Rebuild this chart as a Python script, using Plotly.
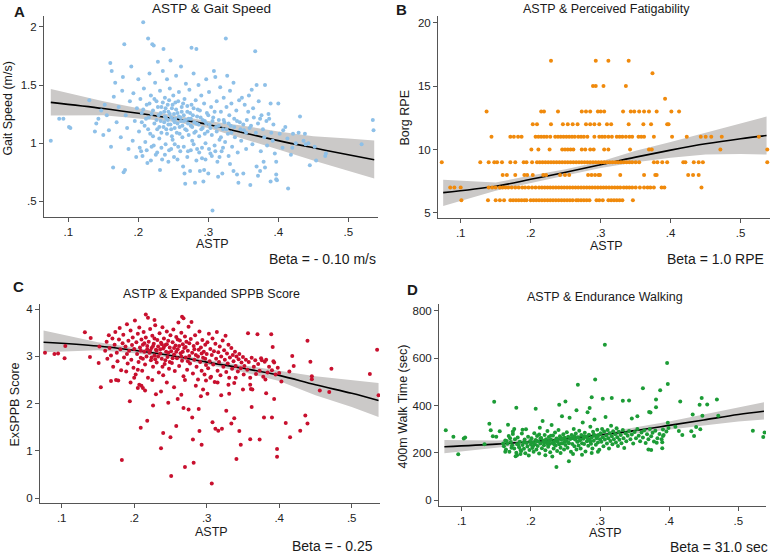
import plotly.graph_objects as go

# ---- data (ASTP vs outcome) ----
gait_pts = [
    (.075, 1.02), (.087, 1.21), (.093, 1.21), (.101, 1.14), (.103, 1.13), (.130, 1.37), (.138, 1.10), (.140, 1.17),
    (.143, 1.21), (.147, 1.28), (.150, 1.07), (.152, 1.33), (.155, 1.24), (.158, 1.11), (.160, 1.69), (.162, 1.62),
    (.161, 0.97), (.164, 0.79), (.165, 1.40), (.167, 1.52), (.169, 1.18), (.172, 1.31), (.175, 1.05), (.177, 1.45),
    (.179, 0.75), (.181, 0.77), (.180, 1.85), (.178, 1.57), (.182, 1.24), (.184, 1.13), (.186, 0.95), (.188, 1.36),
    (.190, 1.66), (.192, 1.02), (.193, 1.43), (.195, 1.19), (.197, 0.88), (.198, 1.30), (.200, 1.55), (.201, 1.10),
    (.203, 1.38), (.204, 0.93), (.205, 1.26), (.207, 2.04), (.208, 1.47), (.209, 1.15), (.210, 1.01), (.212, 1.33),
    (.213, 0.83), (.214, 1.90), (.215, 1.22), (.216, 1.60), (.217, 1.08), (.218, 1.41), (.219, 0.97), (.220, 1.85),
    (.221, 1.28), (.222, 1.84), (.223, 1.17), (.224, 1.52), (.225, 0.90), (.226, 1.36), (.227, 1.12), (.228, 1.70),
    (.229, 1.24), (.230, 1.04), (.231, 1.45), (.231, 0.77), (.232, 1.19), (.233, 1.31), (.234, 0.86), (.235, 1.62),
    (.236, 1.81), (.236, 1.14), (.237, 1.27), (.238, 1.39), (.239, 0.99), (.240, 1.21), (.241, 1.55), (.241, 1.08),
    (.242, 1.33), (.243, 1.16), (.244, 0.94), (.245, 1.25), (.245, 1.47), (.246, 1.71), (.247, 1.12), (.248, 1.30),
    (.249, 1.03), (.250, 1.20), (.250, 1.41), (.251, 0.88), (.252, 1.18), (.253, 1.35), (.254, 1.58), (.255, 1.09),
    (.256, 1.26), (.257, 0.97), (.258, 1.44), (.259, 1.14), (.260, 1.22), (.261, 1.66), (.262, 1.31), (.263, 1.05),
    (.264, 0.80), (.265, 1.19), (.266, 0.74), (.266, 1.38), (.267, 0.65), (.268, 1.51), (.269, 1.11), (.270, 1.27),
    (.271, 0.93), (.272, 1.21), (.273, 1.46), (.274, 0.76), (.275, 1.15), (.276, 1.82), (.276, 1.33), (.277, 1.02),
    (.278, 1.24), (.279, 1.60), (.280, 1.09), (.281, 0.66), (.282, 1.37), (.283, 1.81), (.283, 1.17), (.284, 0.95),
    (.285, 1.29), (.286, 1.50), (.287, 1.06), (.288, 0.76), (.289, 1.22), (.290, 1.41), (.291, 0.87), (.292, 1.13),
    (.293, 0.67), (.294, 0.77), (.294, 1.34), (.295, 1.19), (.296, 1.00), (.297, 1.55), (.298, 1.26), (.299, 1.10),
    (.300, 0.74), (.301, 1.44), (.302, 1.16), (.303, 0.91), (.304, 1.31), (.305, 1.07), (.306, 0.42), (.307, 1.22),
    (.308, 1.62), (.309, 0.98), (.310, 1.57), (.311, 1.14), (.312, 1.36), (.313, 0.84), (.314, 0.71), (.315, 1.20),
    (.316, 1.03), (.317, 1.48), (.318, 1.27), (.319, 0.93), (.320, 0.74), (.321, 1.12), (.322, 1.39), (.323, 1.18),
    (.324, 1.01), (.325, 1.90), (.326, 1.31), (.327, 1.58), (.328, 1.08), (.329, 0.89), (.330, 1.24), (.331, 1.45),
    (.331, 0.82), (.332, 1.15), (.333, 1.34), (.334, 0.97), (.336, 1.52), (.336, 0.76), (.337, 1.21), (.338, 1.05),
    (.340, 1.28), (.341, 0.73), (.342, 0.92), (.343, 0.66), (.344, 1.37), (.345, 1.18), (.347, 1.02), (.348, 1.39),
    (.350, 0.74), (.351, 1.11), (.352, 1.33), (.354, 0.95), (.355, 1.20), (.357, 1.27), (.358, 1.41), (.360, 0.64),
    (.361, 1.15), (.362, 1.46), (.363, 0.99), (.364, 1.30), (.365, 1.22), (.367, 1.79), (.368, 1.09), (.369, 0.80),
    (.369, 1.50), (.371, 0.72), (.371, 1.17), (.372, 1.36), (.374, 0.76), (.374, 1.21), (.375, 0.93), (.376, 1.24),
    (.378, 1.12), (.379, 0.84), (.380, 1.05), (.381, 0.79), (.381, 1.50), (.383, 1.19), (.384, 0.98), (.386, 1.25),
    (.387, 1.21), (.389, 0.67), (.389, 1.34), (.390, 1.09), (.392, 1.02), (.393, 1.16), (.395, 0.91), (.397, 0.73),
    (.397, 0.69), (.397, 0.84), (.398, 0.68), (.400, 1.34), (.402, 1.08), (.406, 0.96), (.407, 1.11), (.410, 1.14),
    (.413, 1.04), (.414, 0.61), (.418, 0.90), (.420, 0.96), (.421, 1.08), (.425, 1.00), (.429, 1.09), (.431, 1.23),
    (.436, 1.02), (.438, 1.08), (.439, 0.99), (.443, 1.00), (.445, 0.81), (.452, 0.97), (.454, 0.85), (.467, 0.89),
    (.468, 0.91), (.519, 0.99), (.535, 1.20), (.536, 1.11),
    (.205, 1.18), (.207, 1.29), (.211, 1.21), (.214, 1.12), (.216, 1.34), (.219, 1.25), (.221, 1.06), (.223, 1.38),
    (.226, 1.20), (.228, 1.31), (.230, 1.14), (.232, 1.26), (.233, 1.09), (.235, 1.35), (.237, 1.18), (.238, 1.23),
    (.239, 1.30), (.240, 1.12), (.242, 1.20), (.243, 1.27), (.244, 1.37), (.246, 1.16), (.247, 1.22), (.248, 1.06),
    (.249, 1.33), (.251, 1.25), (.252, 1.13), (.253, 1.21), (.254, 1.29), (.256, 1.17), (.257, 1.36), (.258, 1.23),
    (.259, 1.08), (.261, 1.19), (.262, 1.27), (.263, 1.15), (.264, 1.34), (.265, 1.24), (.267, 1.12), (.268, 1.20),
    (.270, 1.32), (.271, 1.17), (.272, 1.07), (.274, 1.26), (.275, 1.21), (.277, 1.14), (.279, 1.30), (.280, 1.18),
    (.282, 1.10), (.284, 1.23), (.286, 1.16), (.288, 1.28), (.290, 1.12), (.292, 1.20), (.295, 1.08), (.297, 1.17),
    (.300, 1.24), (.303, 1.13), (.306, 1.19), (.309, 1.27), (.312, 1.10), (.315, 1.15), (.318, 1.05), (.322, 1.20),
    (.326, 1.12), (.329, 1.17), (.333, 1.09), (.337, 1.14), (.341, 1.19), (.346, 1.12), (.350, 1.16), (.354, 1.09),
    (.359, 1.13),
    (.202, 0.96), (.206, 0.89), (.212, 0.94), (.218, 0.85), (.222, 0.98), (.227, 0.92), (.233, 0.96), (.238, 0.90),
    (.243, 0.84), (.247, 0.95), (.252, 0.99), (.256, 0.86), (.260, 0.93), (.265, 0.97), (.270, 0.88), (.275, 0.94),
    (.279, 0.99), (.283, 0.85), (.287, 0.92), (.291, 0.96), (.296, 0.86), (.301, 0.95), (.305, 0.89), (.310, 0.93),
    (.316, 0.88), (.321, 0.96),
]

# Borg RPE is an integer score: ASTP values of the dots in each RPE row
rpe6 = [.101, .139, .150, .156, .162, .171, .175, .179, .183, .187, .191, .194, .200, .204, .208, .212, .216,
        .220, .224, .228, .232, .236, .240, .244, .248, .252, .256, .260, .265, .268, .272, .276, .280, .284,
        .294, .298, .303, .311, .315, .319, .323, .327, .331, .346]
rpe7 = [.085, .091, .100, .140, .145, .150, .156, .160, .164, .168, .173, .178, .183, .188, .192, .197, .202,
        .207, .212, .216, .220, .224, .228, .232, .236, .240, .244, .248, .252, .256, .260, .264, .268, .272,
        .276, .280, .284, .288, .292, .296, .300, .304, .308, .312, .316, .320, .324, .328, .333, .337, .341,
        .345, .350, .356, .362, .367, .371, .376, .387, .391, .444]
rpe8 = [.160, .166, .178, .191, .195, .203, .218, .222, .242, .249, .255, .282, .287, .292, .297, .299, .328,
        .362, .378, .380, .425, .432, .440]
rpe9 = [.073, .128, .140, .148, .152, .159, .171, .178, .190, .194, .202, .209, .213, .217, .221, .225, .229,
        .233, .237, .241, .245, .249, .253, .257, .261, .265, .269, .273, .277, .281, .285, .289, .293, .297,
        .301, .305, .309, .313, .317, .321, .325, .329, .333, .337, .341, .345, .350, .355, .376, .381, .388,
        .395, .418, .421, .433, .440, .446, .538]
rpe10 = [.201, .211, .227, .245, .249, .253, .257, .261, .273, .278, .285, .290, .305, .311, .342, .369, .373,
         .471, .538]
rpe11 = [.144, .171, .176, .182, .187, .207, .211, .215, .219, .223, .228, .235, .239, .243, .247, .251, .255,
         .259, .263, .268, .272, .276, .281, .291, .298, .302, .306, .311, .316, .323, .327, .331, .336, .341,
         .345, .354, .358, .362, .376, .402, .423, .443, .450, .458, .473, .526]
rpe12 = [.203, .209, .229, .246, .253, .260, .267, .279, .285, .291, .298, .309, .315, .340, .361, .372, .395, .397]
rpe13 = [.137, .215, .219, .239, .273, .279, .285, .296, .300, .305, .332, .343, .348, .355, .362, .369, .380,
         .401, .412]
rpe14 = [.392]
rpe15 = [.289, .293, .304, .336]
rpe16 = [.374]
rpe17 = [.229, .293, .311, .340]

sppb_pts = [
    (.077, 3.08), (.090, 3.05), (.095, 3.06), (.104, 2.96), (.105, 3.22), (.132, 3.51), (.139, 2.99), (.140, 3.39),
    (.151, 2.86), (.152, 3.21), (.154, 2.35), (.168, 2.48), (.178, 2.49), (.183, 0.81), (.189, 2.68), (.194, 2.05),
    (.205, 2.33), (.207, 2.40), (.209, 1.49), (.212, 2.33), (.218, 1.64), (.226, 1.96), (.228, 3.77), (.237, 1.06),
    (.237, 2.26), (.240, 1.38), (.247, 2.02), (.250, 1.29), (.251, 0.47), (.258, 1.53), (.265, 2.19), (.268, 1.91),
    (.266, 3.84), (.270, 0.66), (.275, 1.88), (.280, 1.71), (.281, 1.24), (.282, 0.75), (.289, 1.89), (.290, 1.42),
    (.292, 2.16), (.293, 1.13), (.299, 2.49), (.301, 2.21), (.307, 0.31), (.308, 1.61), (.312, 1.47), (.316, 1.43),
    (.321, 1.47), (.327, 1.85), (.331, 2.21), (.334, 1.58), (.338, 1.69), (.341, 0.83), (.345, 1.42), (.347, 1.13),
    (.360, 2.40), (.362, 1.93), (.360, 1.25), (.373, 1.24), (.379, 1.71), (.390, 1.71), (.382, 2.22), (.393, 2.10),
    (.397, 1.04), (.397, 0.88), (.403, 2.47), (.409, 1.59), (.415, 1.29), (.418, 3.01), (.420, 2.80), (.429, 1.43),
    (.439, 3.33), (.436, 1.75), (.439, 1.58), (.445, 2.58), (.445, 2.52), (.443, 2.89), (.456, 2.28), (.469, 2.25),
    (.472, 2.74), (.525, 2.63), (.535, 3.14), (.537, 2.18), (.414, 2.68), (.392, 2.90), (.381, 2.51), (.361, 2.31),
    (.201, 3.76), (.216, 3.89), (.219, 3.82), (.207, 3.61), (.190, 3.68), (.185, 3.46),
    (.160, 3.12), (.162, 3.31), (.163, 2.95), (.165, 3.45), (.166, 3.18), (.168, 3.02), (.170, 3.38), (.171, 2.78),
    (.173, 3.25), (.174, 3.52), (.176, 3.08), (.177, 2.90), (.179, 3.36), (.180, 3.60), (.181, 3.15), (.182, 2.71),
    (.184, 3.28), (.186, 2.98), (.188, 3.21), (.190, 3.05), (.191, 2.85), (.192, 3.33), (.193, 3.12), (.195, 3.55),
    (.196, 2.93), (.197, 3.24), (.198, 3.40), (.199, 2.76), (.200, 3.16), (.202, 2.62),
    (.203, 3.30), (.204, 3.05), (.205, 3.48), (.206, 2.88), (.208, 3.19), (.209, 2.97), (.210, 3.36), (.211, 2.70),
    (.212, 3.25), (.213, 3.52), (.214, 3.10), (.215, 2.83), (.216, 3.40), (.217, 3.00), (.218, 3.22), (.219, 2.55),
    (.220, 3.31), (.221, 3.08), (.222, 3.58), (.223, 2.92), (.224, 3.18), (.225, 3.44), (.226, 2.78), (.227, 3.27),
    (.228, 3.02), (.229, 3.66), (.230, 3.14), (.231, 2.87), (.232, 3.35), (.233, 3.21), (.234, 2.66), (.235, 3.49),
    (.236, 3.06), (.237, 3.29), (.238, 2.95), (.239, 3.62), (.240, 3.17), (.241, 3.38), (.242, 2.84), (.243, 3.24),
    (.244, 3.10), (.245, 3.53), (.246, 2.99), (.247, 3.33), (.248, 2.74), (.249, 3.19), (.250, 3.45), (.205, 2.72),
    (.212, 2.95), (.222, 3.12), (.228, 3.38), (.233, 3.00), (.238, 3.26), (.243, 2.92), (.247, 3.08), (.214, 3.28),
    (.226, 3.22), (.236, 3.15), (.241, 3.20), (.245, 3.26), (.231, 3.12), (.218, 3.15), (.209, 3.12), (.224, 2.98),
    (.249, 2.88), (.239, 2.78), (.229, 2.94),
    (.251, 3.11), (.252, 2.86), (.253, 3.30), (.254, 3.57), (.255, 3.04), (.256, 2.69), (.257, 3.23), (.258, 3.41),
    (.259, 2.96), (.260, 3.15), (.261, 3.72), (.262, 2.80), (.263, 3.34), (.264, 3.07), (.265, 3.50), (.266, 2.91),
    (.267, 3.26), (.268, 3.81), (.268, 2.58), (.269, 3.18), (.270, 3.42), (.271, 2.98), (.272, 3.31), (.273, 2.72),
    (.274, 3.12), (.275, 3.63), (.276, 3.01), (.277, 2.85), (.278, 3.37), (.279, 3.73), (.280, 3.08), (.281, 2.64),
    (.282, 3.22), (.283, 2.93), (.284, 3.45), (.285, 3.03), (.286, 2.78), (.287, 3.28), (.288, 2.51), (.289, 3.14),
    (.290, 3.53), (.291, 2.88), (.292, 3.19), (.293, 2.70), (.294, 3.35), (.295, 2.97), (.296, 3.10), (.297, 2.62),
    (.298, 3.25), (.299, 2.82), (.300, 3.05), (.255, 3.18), (.262, 3.22), (.258, 3.10), (.265, 3.00), (.271, 3.20),
    (.276, 3.28), (.283, 3.15), (.288, 3.00), (.293, 3.06), (.298, 2.95), (.253, 2.96), (.260, 3.36), (.267, 3.10),
    (.274, 2.90),
    (.301, 3.30), (.302, 2.75), (.303, 3.48), (.304, 2.90), (.305, 3.16), (.306, 2.57), (.307, 3.03), (.308, 3.38),
    (.309, 2.83), (.310, 3.11), (.311, 2.46), (.312, 3.27), (.313, 2.95), (.314, 3.52), (.315, 2.70), (.316, 3.09),
    (.317, 2.88), (.318, 3.21), (.319, 2.60), (.320, 3.00), (.322, 3.34), (.323, 2.78), (.324, 3.13), (.325, 2.93),
    (.326, 3.44), (.327, 2.67), (.328, 3.06), (.329, 2.85), (.330, 3.25), (.331, 2.55), (.332, 2.98), (.334, 3.18),
    (.335, 2.74), (.336, 3.03), (.337, 2.90), (.338, 2.44), (.339, 3.10), (.340, 2.80), (.341, 3.00), (.343, 2.68),
    (.344, 2.94), (.345, 3.05), (.347, 2.75), (.348, 2.87), (.350, 2.99), (.351, 2.62), (.352, 2.80), (.354, 2.93),
    (.356, 2.72), (.357, 3.49), (.358, 2.88), (.360, 2.55), (.362, 2.97), (.363, 2.30), (.365, 2.78), (.367, 2.92),
    (.368, 2.63), (.370, 3.47), (.371, 2.84), (.373, 2.70), (.375, 2.96), (.376, 2.92), (.378, 2.57), (.380, 2.89),
    (.382, 2.93), (.384, 2.66), (.386, 2.78), (.389, 3.47), (.390, 2.71), (.391, 3.20), (.393, 2.87), (.395, 2.62),
    (.398, 2.76), (.400, 2.65),
    (.175, 2.50), (.195, 2.45), (.210, 2.38), (.215, 2.28), (.225, 2.50), (.230, 2.20), (.245, 2.45), (.255, 2.35),
    (.260, 2.10), (.270, 2.50), (.285, 2.38), (.295, 2.30), (.305, 2.55), (.315, 2.45), (.320, 2.18), (.330, 2.40),
    (.340, 2.55), (.350, 2.30), (.240, 2.60), (.200, 2.55),
]

walk_pts = [
    (.077, 296), (.088, 268), (.095, 194), (.103, 261), (.105, 265), (.133, 236), (.140, 323), (.142, 296),
    (.145, 270), (.147, 416), (.150, 268), (.155, 291), (.160, 240), (.163, 205), (.165, 250), (.167, 319),
    (.170, 262), (.172, 222), (.174, 280), (.176, 301), (.179, 391), (.180, 190), (.182, 233), (.185, 212),
    (.188, 298), (.190, 245), (.207, 386), (.237, 140), (.241, 403), (.250, 417), (.255, 165), (.268, 488),
    (.288, 435), (.293, 510), (.307, 656), (.317, 432), (.304, 429), (.333, 420), (.342, 421), (.362, 473),
    (.381, 425), (.387, 464), (.381, 393), (.371, 373), (.373, 370), (.346, 345), (.354, 355), (.397, 579),
    (.398, 491), (.398, 327), (.391, 299), (.391, 271), (.390, 245), (.390, 220), (.382, 243), (.370, 214),
    (.374, 212), (.409, 310), (.414, 292), (.416, 417), (.419, 275), (.432, 291), (.434, 362), (.436, 271),
    (.439, 309), (.444, 403), (.445, 300), (.447, 432), (.448, 357), (.455, 404), (.469, 425), (.471, 357),
    (.521, 293), (.536, 267), (.538, 286),
    (.161, 228), (.163, 252), (.164, 214), (.166, 239), (.168, 271), (.169, 205), (.171, 246), (.173, 232),
    (.174, 290), (.176, 219), (.177, 258), (.179, 201), (.180, 238), (.181, 265), (.183, 224), (.184, 247),
    (.186, 208), (.187, 282), (.188, 233), (.190, 217), (.191, 256), (.192, 198), (.194, 242), (.195, 227),
    (.196, 268), (.198, 212), (.199, 250), (.200, 235), (.178, 186), (.185, 195), (.193, 300), (.197, 189),
    (.201, 262), (.202, 221), (.203, 245), (.204, 205), (.205, 283), (.206, 236), (.207, 254), (.208, 214),
    (.209, 271), (.210, 229), (.211, 248), (.212, 197), (.213, 306), (.214, 240), (.215, 263), (.216, 220),
    (.217, 335), (.218, 251), (.219, 232), (.220, 276), (.221, 211), (.222, 258), (.223, 244), (.224, 292),
    (.225, 226), (.226, 267), (.227, 238), (.228, 203), (.229, 255), (.230, 318), (.231, 242), (.232, 273),
    (.233, 219), (.234, 249), (.235, 286), (.236, 231), (.237, 261), (.238, 208), (.239, 246), (.240, 297),
    (.241, 236), (.242, 270), (.243, 222), (.244, 256), (.245, 355), (.246, 241), (.247, 279), (.248, 214),
    (.249, 264), (.250, 233), (.203, 228), (.208, 250), (.214, 262), (.219, 244), (.224, 238), (.229, 272),
    (.234, 235), (.239, 258), (.244, 240), (.249, 248), (.212, 278), (.226, 248), (.236, 252), (.246, 262),
    (.221, 190), (.231, 185), (.243, 200),
    (.251, 253), (.252, 287), (.253, 222), (.254, 268), (.255, 241), (.256, 348), (.257, 259), (.258, 205),
    (.259, 275), (.260, 237), (.261, 262), (.262, 301), (.263, 228), (.264, 256), (.265, 282), (.266, 214),
    (.267, 247), (.268, 266), (.269, 231), (.270, 293), (.271, 253), (.272, 219), (.273, 276), (.274, 241),
    (.275, 328), (.276, 260), (.277, 237), (.278, 285), (.279, 206), (.280, 268), (.281, 249), (.282, 372),
    (.283, 230), (.284, 277), (.285, 256), (.286, 310), (.287, 239), (.288, 265), (.289, 218), (.290, 289),
    (.291, 251), (.292, 341), (.293, 272), (.294, 234), (.295, 262), (.296, 298), (.297, 244), (.298, 276),
    (.299, 213), (.300, 258), (.254, 245), (.258, 262), (.263, 270), (.268, 248), (.272, 258), (.277, 270),
    (.282, 262), (.286, 248), (.291, 278), (.296, 268), (.261, 195), (.274, 192), (.288, 200), (.297, 205),
    (.266, 380), (.285, 390),
    (.301, 283), (.302, 247), (.303, 301), (.304, 266), (.305, 228), (.306, 290), (.307, 256), (.308, 352),
    (.309, 273), (.310, 240), (.311, 297), (.312, 262), (.313, 218), (.314, 283), (.315, 250), (.316, 315),
    (.317, 270), (.318, 236), (.319, 291), (.320, 258), (.322, 279), (.323, 244), (.324, 304), (.325, 266),
    (.326, 229), (.327, 289), (.328, 255), (.330, 276), (.331, 241), (.333, 297), (.334, 262), (.335, 221),
    (.337, 283), (.338, 249), (.340, 272), (.342, 292), (.344, 258), (.346, 278), (.348, 240), (.350, 288),
    (.352, 262), (.354, 301), (.356, 272), (.358, 249), (.360, 286),
    (.362, 265), (.364, 296), (.366, 242), (.368, 279), (.370, 258), (.372, 301), (.374, 270), (.376, 285),
    (.378, 248), (.380, 293), (.383, 262), (.386, 280), (.389, 258), (.392, 276), (.396, 290), (.399, 305),
]

# fitted line and 95% CI band, read at these ASTP values
fit_x = [.075, .15, .2, .25, .3, .35, .4, .45, .5, .537]
gait_fit = [1.351, 1.298, 1.257, 1.212, 1.16, 1.09, 1.022, 0.96, 0.90, 0.858]
gait_hi = [1.466, 1.36, 1.30, 1.24, 1.19, 1.15, 1.10, 1.06, 1.04, 1.023]
gait_lo = [1.237, 1.24, 1.215, 1.185, 1.13, 1.04, 0.945, 0.85, 0.76, 0.695]
rpe_fit = [6.6, 7.1, 7.65, 8.2, 8.8, 9.4, 9.95, 10.45, 10.85, 11.1]
rpe_hi = [7.62, 7.4, 7.95, 8.45, 9.05, 9.9, 10.6, 11.35, 12.05, 12.6]
rpe_lo = [5.55, 6.75, 7.35, 7.95, 8.55, 9.0, 9.35, 9.6, 9.65, 9.6]
sppb_fit = [3.30, 3.22, 3.13, 3.02, 2.88, 2.75, 2.60, 2.40, 2.22, 2.07]
sppb_hi = [3.55, 3.30, 3.19, 3.07, 2.93, 2.82, 2.70, 2.58, 2.50, 2.44]
sppb_lo = [3.09, 3.13, 3.07, 2.97, 2.83, 2.67, 2.48, 2.18, 1.93, 1.72]
walk_fit = [226, 237, 247, 259, 276, 294, 316, 339, 362, 376]
walk_hi = [254, 252, 257, 268, 285, 307, 333, 362, 392, 414]
walk_lo = [198, 222, 236, 250, 266, 281, 298, 316, 333, 341]

FONT = "Liberation Sans, Arial, Helvetica, sans-serif"
W, H = 780, 555


def px(x, y):
    return x / W, 1 - y / H


rpe_x, rpe_y = [], []
for score, row in [(6, rpe6), (7, rpe7), (8, rpe8), (9, rpe9), (10, rpe10), (11, rpe11), (12, rpe12),
                   (13, rpe13), (14, rpe14), (15, rpe15), (16, rpe16), (17, rpe17)]:
    rpe_x += row
    rpe_y += [score] * len(row)

panels = [
    # points x, points y, fit, hi, lo, colour, axis suffix
    ([p[0] for p in gait_pts], [p[1] for p in gait_pts], gait_fit, gait_hi, gait_lo, "#8ec0e8", ""),
    (rpe_x, rpe_y, rpe_fit, rpe_hi, rpe_lo, "#f08a0c", "2"),
    ([p[0] for p in sppb_pts], [p[1] for p in sppb_pts], sppb_fit, sppb_hi, sppb_lo, "#c8102e", "3"),
    ([p[0] for p in walk_pts], [p[1] for p in walk_pts], walk_fit, walk_hi, walk_lo, "#1c9c36", "4"),
]

fig = go.Figure()
for xs, ys, fit, hi, lo, col, s in panels:
    xa, ya = "x" + s, "y" + s
    fig.add_trace(go.Scatter(x=fit_x + fit_x[::-1], y=hi + lo[::-1], fill="toself",
                             fillcolor="#cbc9c8", line=dict(width=0), mode="lines",
                             hoverinfo="skip", xaxis=xa, yaxis=ya))
    fig.add_trace(go.Scatter(x=fit_x, y=fit, mode="lines", line=dict(color="black", width=1.6, shape="spline"),
                             xaxis=xa, yaxis=ya))
    fig.add_trace(go.Scatter(x=xs, y=ys, mode="markers", marker=dict(color=col, size=4),
                             xaxis=xa, yaxis=ya))


def axis(dom, rng, vals, text, anchor):
    return dict(domain=dom, range=rng, tickvals=vals, ticktext=text, anchor=anchor,
                showline=True, linecolor="#555", linewidth=1, ticks="outside", ticklen=4,
                tickcolor="#555", showgrid=False, zeroline=False,
                tickfont=dict(family=FONT, size=11.5, color="#222"))


xt = [.1, .2, .3, .4, .5]
xl = [".1", ".2", ".3", ".4", ".5"]

fig.update_layout(
    width=W, height=H, margin=dict(l=0, r=0, t=0, b=0),
    plot_bgcolor="white", paper_bgcolor="white", showlegend=False,
    xaxis=axis([44 / W, 378 / W], [.0653, .5424], xt, xl, "y"),
    yaxis=axis([1 - 217 / H, 1 - 15 / H], [.363, 2.094], [.5, 1, 1.5, 2], [".5", "1", "1.5", "2"], "x"),
    xaxis2=axis([438 / W, 770 / W], [.0676, .5419], xt, xl, "y2"),
    yaxis2=axis([1 - 218 / H, 1 - 15 / H], [4.584, 20.526], [5, 10, 15, 20], ["5", "10", "15", "20"], "x2"),
    xaxis3=axis([40 / W, 380 / W], [.0701, .539], xt, xl, "y3"),
    yaxis3=axis([1 - 504 / H, 1 - 304 / H], [-.105, 4.112], [0, 1, 2, 3, 4], ["0", "1", "2", "3", "4"], "x3"),
    xaxis4=axis([439 / W, 766 / W], [.0672, .540], xt, xl, "y4"),
    yaxis4=axis([1 - 507 / H, 1 - 304 / H], [-25, 829], [0, 200, 400, 600, 800],
                ["0", "200", "400", "600", "800"], "x4"),
)

texts = [
    # text, x, y (pixels), size, anchor, bold, angle
    ("A", 19, 11, 15, "center", True, 0),
    ("B", 402, 9, 15, "center", True, 0),
    ("C", 18, 287, 15, "center", True, 0),
    ("D", 412, 290, 15, "center", True, 0),
    ("ASTP & Gait Speed", 212, 8, 13.5, "center", False, 0),
    ("ASTP & Perceived Fatigability", 606, 8, 12.5, "center", False, 0),
    ("ASTP & Expanded SPPB Score", 212, 294, 12.5, "center", False, 0),
    ("ASTP & Endurance Walking", 605, 297, 12.5, "center", False, 0),
    ("ASTP", 213, 244, 12.5, "center", False, 0),
    ("ASTP", 606, 245.5, 12.5, "center", False, 0),
    ("ASTP", 212, 533, 12.5, "center", False, 0),
    ("ASTP", 605, 534, 12.5, "center", False, 0),
    ("Gait Speed (m/s)", 8, 108, 12.5, "center", False, -90),
    ("Borg RPE", 405, 117, 12.5, "center", False, -90),
    ("ExSPPB Score", 15, 405, 12.5, "center", False, -90),
    ("400m Walk Time (sec)", 403, 407, 12.5, "center", False, -90),
    ("Beta = - 0.10 m/s", 378, 259, 14, "right", False, 0),
    ("Beta = 1.0 RPE", 766, 259, 14, "right", False, 0),
    ("Beta = - 0.25", 375, 547, 14, "right", False, 0),
    ("Beta = 31.0 sec", 770, 548, 14, "right", False, 0),
]
for t, x, y, size, anchor, bold, angle in texts:
    ax_, ay_ = px(x, y)
    fig.add_annotation(text="<b>%s</b>" % t if bold else t, x=ax_, y=ay_, xref="paper", yref="paper",
                       xanchor=anchor, yanchor="middle", showarrow=False, textangle=angle,
                       font=dict(family=FONT, size=size, color="#1a1a1a"))

# the page body has a default 8px margin; drop it so the figure sits at the window's corner
fig.write_html("out.html", config={"displayModeBar": False},
               post_script="document.body.style.margin='0px';")
